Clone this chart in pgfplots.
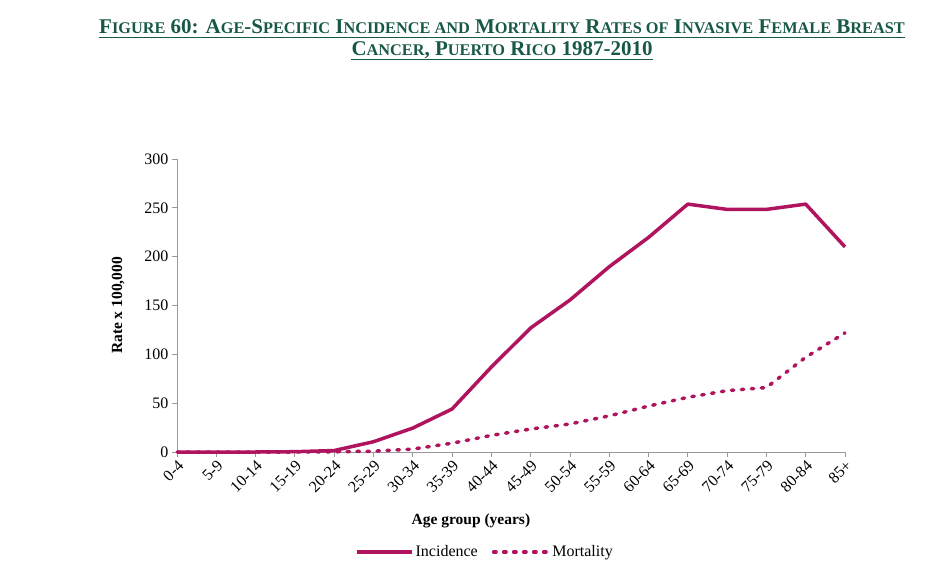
\documentclass[border=0pt]{standalone}
\usepackage{pgfplots}
\pgfplotsset{compat=1.18}
\usepackage{fontspec}
\setmainfont{Liberation Serif}
\definecolor{crim}{RGB}{176,20,94}
\definecolor{teal}{RGB}{24,88,72}
\newcommand\sm[1]{{\fontsize{16.3}{17}\selectfont #1}}
\begin{document}
\begin{tikzpicture}[x=1pt,y=1pt]
\useasboundingbox (0,0) rectangle (951,573);
\begin{axis}[
  at={(177pt,121pt)}, anchor=south west,
  scale only axis, width=668pt, height=293pt,
  xmin=0, xmax=17, ymin=0, ymax=300,
  axis lines=left, axis line style={-, draw=gray!80, line width=0.8pt},
  xtick={0,...,17},
  xticklabels={0-4,5-9,10-14,15-19,20-24,25-29,30-34,35-39,40-44,45-49,50-54,55-59,60-64,65-69,70-74,75-79,80-84,85+},
  ytick={0,50,...,300},
  tick align=outside, major tick length=5pt,
  tick style={draw=gray!80, line width=0.8pt},
  xticklabel style={rotate=45, anchor=north east, inner sep=1.5pt, font=\fontsize{16}{16}\selectfont},
  yticklabel style={font=\fontsize{16}{16}\selectfont},
  /pgf/number format/assume math mode=true,
  xlabel={\textbf{Age group (years)}},
  ylabel={\textbf{Rate x 100,000}},
  label style={font=\fontsize{15.5}{15.5}\selectfont},
  xlabel style={at={(axis description cs:0.44,0)}, anchor=center, yshift=-69pt},
  ylabel style={at={(axis description cs:-0.088,0.5)}, anchor=center},
  legend style={at={(axis description cs:0.461,-0.341)}, anchor=center, draw=none, fill=none, legend columns=2, font=\fontsize{16}{16}\selectfont, /tikz/every even column/.append style={column sep=12pt}},
  legend image code/.code={\draw[#1] (0pt,0pt) -- (55pt,0pt);},
  clip=false,
]
\addplot[crim, line width=3.5pt, line join=round] coordinates {
(0,0)(1,0)(2,0)(3,0.3)(4,1.5)(5,10.5)(6,24.5)(7,44)(8,87)(9,127)(10,155.6)(11,189.7)(12,219.7)(13,253.8)(14,248.4)(15,248.4)(16,253.8)(17,210)};
\addlegendentry{Incidence}
\addplot[crim, line width=3.5pt, line cap=round, dash pattern=on 2.5pt off 7.5pt] coordinates {
(0,0)(1,0)(2,0)(3,0)(4,0.2)(5,0.8)(6,3)(7,9)(8,17)(9,23.5)(10,28.7)(11,37)(12,47)(13,56)(14,62.8)(15,66)(16,97)(17,122)};
\addlegendentry{Mortality}
\end{axis}
\begin{scope}[teal, font=\bfseries\fontsize{21}{22}\selectfont]
\node[inner sep=0, anchor=base] (t1) at (502,539) {F\sm{IGURE} 60: A\sm{GE}-S\sm{PECIFIC} I\sm{NCIDENCE AND} M\sm{ORTALITY} R\sm{ATES OF} I\sm{NVASIVE} F\sm{EMALE} B\sm{REAST}};
\node[inner sep=0, anchor=base] (t2) at (502,517) {C\sm{ANCER}, P\sm{UERTO} R\sm{ICO} 1987-2010};
\draw[line width=1.8pt] ([yshift=-3.5pt]t1.base west) -- ([yshift=-3.5pt]t1.base east);
\draw[line width=1.8pt] ([yshift=-3.5pt]t2.base west) -- ([yshift=-3.5pt]t2.base east);
\end{scope}
\end{tikzpicture}
\end{document}
